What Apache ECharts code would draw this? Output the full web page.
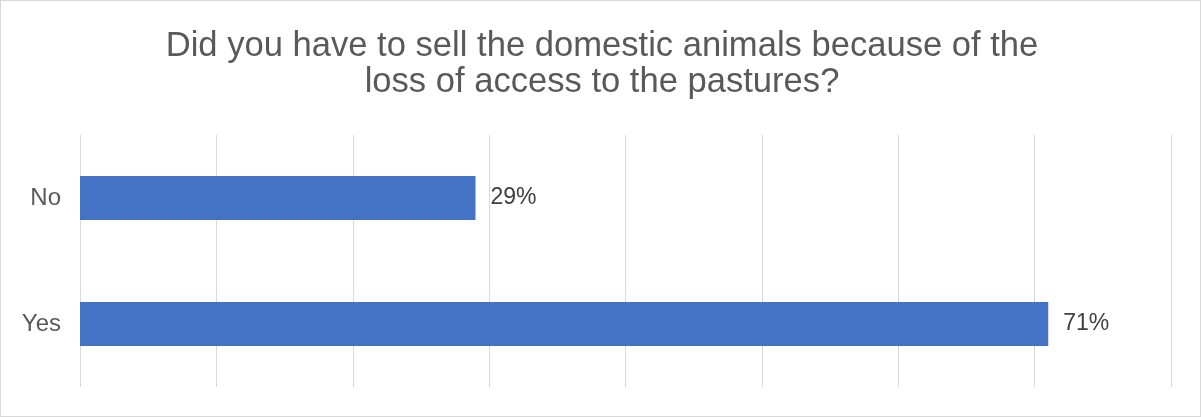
<!DOCTYPE html>
<html>
<head>
<meta charset="utf-8">
<script src="https://cdn.jsdelivr.net/npm/echarts@6/dist/echarts.min.js"></script>
<style>
  html, body { margin: 0; padding: 0; background: #fff; }
  #chart { width: 1199px; height: 415px; border: 1px solid #d9d9d9; }
</style>
</head>
<body>
<div id="chart"></div>
<script>
// Survey answers (share of respondents)
const categories = ['Yes', 'No'];
const shares = [0.71, 0.29];
const titleLines = [
  'Did you have to sell the domestic animals because of the',
  'loss of access to the pastures?'
];

const chart = echarts.init(document.getElementById('chart'), null, { renderer: 'canvas' });
chart.setOption({
  animation: false,
  backgroundColor: '#ffffff',
  title: {
    text: titleLines.join('\n'),
    left: 596,
    top: 22,
    textAlign: 'center',
    textStyle: {
      fontFamily: 'Liberation Sans, Arial, sans-serif',
      fontSize: 34.6,
      fontWeight: 'normal',
      color: '#595959',
      lineHeight: 36
    }
  },
  grid: { left: 79, right: 29, top: 134, bottom: 29, containLabel: false },
  xAxis: {
    type: 'value',
    min: 0,
    max: 0.8,
    interval: 0.1,
    axisLine: { show: false },
    axisTick: { show: false },
    axisLabel: { show: false },
    splitLine: { show: true, lineStyle: { color: '#d9d9d9', width: 1 } }
  },
  yAxis: {
    type: 'category',
    data: categories,
    axisLine: { show: false },
    axisTick: { show: false },
    axisLabel: {
      margin: 19,
      fontFamily: 'Liberation Sans, Arial, sans-serif',
      fontSize: 24,
      color: '#595959'
    }
  },
  series: [{
    type: 'bar',
    data: shares,
    barWidth: '35%',
    itemStyle: { color: '#4472c4' },
    label: {
      show: true,
      position: 'right',
      distance: 15,
      fontFamily: 'Liberation Sans, Arial, sans-serif',
      fontSize: 23,
      color: '#404040',
      formatter: p => Math.round(p.value * 100) + '%'
    }
  }]
});
</script>
</body>
</html>
